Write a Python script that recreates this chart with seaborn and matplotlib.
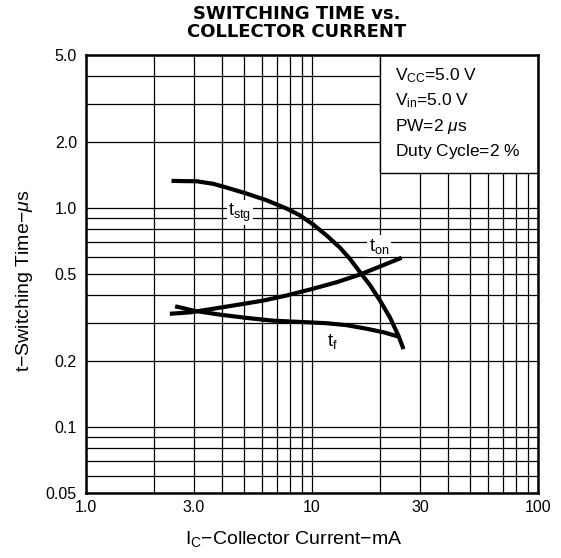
import matplotlib
matplotlib.use("Agg")
import matplotlib.pyplot as plt
import matplotlib.ticker as ticker
import seaborn as sns
import pandas as pd
from matplotlib.patches import Rectangle

# curve data (Ic in mA, t in us)
tstg_ic = [2.39, 3.09, 3.66, 4.19, 5.14, 6.30, 7.73, 8.85, 10.1, 11.6, 13.3, 14.7,
           16.3, 18.1, 20.0, 22.1, 24.1, 25.4]
tstg_t = [1.33, 1.325, 1.29, 1.24, 1.164, 1.085, 0.994, 0.926, 0.842, 0.750, 0.659, 0.587,
          0.510, 0.443, 0.378, 0.317, 0.262, 0.227]

ton_ic = [2.35, 2.89, 3.66, 4.80, 6.09, 7.73, 10.1, 12.9, 16.3, 20.0, 24.9]
ton_t = [0.329, 0.334, 0.347, 0.363, 0.378, 0.399, 0.428, 0.459, 0.497, 0.541, 0.593]

tf_ic = [2.48, 2.99, 3.92, 5.14, 6.74, 8.85, 11.6, 14.2, 17.5, 20.7, 24.1]
tf_t = [0.356, 0.340, 0.326, 0.315, 0.306, 0.302, 0.298, 0.292, 0.281, 0.271, 0.259]

x_ticks = [1, 3, 10, 30, 100]
x_labels = ["1.0", "3.0", "10", "30", "100"]
y_ticks = [0.05, 0.1, 0.2, 0.5, 1.0, 2.0, 5.0]
y_labels = ["0.05", "0.1", "0.2", "0.5", "1.0", "2.0", "5.0"]

cond_lines = [r"V$_\mathregular{CC}$=5.0 V",
              r"V$_\mathregular{in}$=5.0 V",
              r"PW=2 $\mu$s",
              r"Duty Cycle=2 $\%$"]

sns.set_style("white")
plt.rcParams['font.family'] = ['Liberation Sans', 'DejaVu Sans']
plt.rcParams['mathtext.fontset'] = 'custom'
plt.rcParams['mathtext.rm'] = 'Liberation Sans'
plt.rcParams['mathtext.it'] = 'Liberation Sans:italic'
for key in ['text.color', 'axes.labelcolor', 'xtick.color', 'ytick.color']:
    plt.rcParams[key] = 'black'

fig = plt.figure(figsize=(5.61, 5.58), dpi=100)
ax = fig.add_axes([0.1533, 0.1165, 0.8057, 0.785])

ax.set_xscale('log')
ax.set_yscale('log')
ax.set_xlim(1, 100)
ax.set_ylim(0.05, 5.0)

ax.xaxis.set_major_locator(ticker.FixedLocator(x_ticks))
ax.xaxis.set_major_formatter(ticker.FixedFormatter(x_labels))
ax.xaxis.set_minor_locator(ticker.LogLocator(base=10, subs=range(2, 10)))
ax.xaxis.set_minor_formatter(ticker.NullFormatter())
ax.yaxis.set_major_locator(ticker.FixedLocator(y_ticks))
ax.yaxis.set_major_formatter(ticker.FixedFormatter(y_labels))
ax.yaxis.set_minor_locator(ticker.LogLocator(base=10, subs=range(1, 10)))
ax.yaxis.set_minor_formatter(ticker.NullFormatter())

ax.set_axisbelow(True)
ax.grid(which='both', color='black', linewidth=0.9)
ax.tick_params(axis='y', which='major', length=3, width=1, labelsize=11.5, color='black')
ax.tick_params(axis='x', which='major', length=0, labelsize=11.5, pad=5)
ax.tick_params(which='minor', length=0)
for s in ax.spines.values():
    s.set_linewidth(1.8)
    s.set_color('black')

# conditions box covering the grid
ax.add_patch(Rectangle((20, 1.44), 80, 3.56, facecolor='white', edgecolor='black',
                       linewidth=1.0, zorder=2))
ax.text(0.683, 0.975, "\n".join(cond_lines), transform=ax.transAxes, fontsize=12.5,
        va='top', ha='left', linespacing=1.48, zorder=4)

df = pd.concat([
    pd.DataFrame({'ic': tstg_ic, 't': tstg_t, 'curve': 'tstg'}),
    pd.DataFrame({'ic': ton_ic, 't': ton_t, 'curve': 'ton'}),
    pd.DataFrame({'ic': tf_ic, 't': tf_t, 'curve': 'tf'}),
])
sns.lineplot(data=df, x='ic', y='t', units='curve', estimator=None, sort=False,
             color='black', linewidth=3.0, ax=ax, zorder=3)
for ln in ax.lines:
    ln.set_solid_capstyle('butt')
    ln.set_solid_joinstyle('round')

box = dict(facecolor='white', edgecolor='none', pad=1)
ax.text(4.8, 0.95, r"t$_\mathregular{stg}$", fontsize=13, ha='center', va='center',
        bbox=box, zorder=4)
ax.text(19.8, 0.67, r"t$_\mathregular{on}$", fontsize=13, ha='center', va='center',
        bbox=box, zorder=4)
ax.text(12.3, 0.245, r"t$_\mathregular{f}$", fontsize=13, ha='center', va='center',
        bbox=box, zorder=4)

ax.set_xlabel("I$_\\mathregular{C}$\u2212Collector Current\u2212mA", fontsize=14)
ax.set_ylabel("t\u2212Switching Time\u2212$\\mu$s", fontsize=14)
ax.xaxis.set_label_coords(0.46, -0.083)
ax.yaxis.set_label_coords(-0.113, 0.484)
fig.text(297 / 561, 1 - 23 / 558, "SWITCHING TIME vs.\nCOLLECTOR CURRENT",
         fontsize=13, fontweight='bold', family='DejaVu Sans', ha='center', va='center',
         linespacing=1.0)

fig.savefig('out.png', dpi=100)
